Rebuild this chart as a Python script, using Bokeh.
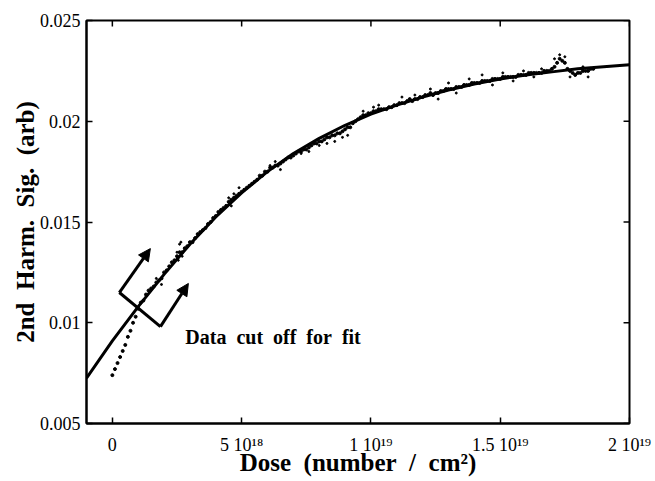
from bokeh.plotting import figure
from bokeh.models import Range1d, FixedTicker, Arrow, NormalHead, Label
from bokeh.embed import file_html
from bokeh.resources import INLINE

# ---- data (dose in units of 1e18 / cm^2) ----
fit_dose = [-1.0, 0.0, 1.0, 2.0, 3.0, 4.0, 5.0, 6.0, 7.0, 8.0, 9.0, 10.0,
            11.0, 12.0, 13.0, 14.0, 15.0, 16.0, 17.0, 18.0, 19.0, 20.0]
fit_sig = [0.00725, 0.0091, 0.0108, 0.0124, 0.0139, 0.01525, 0.01645, 0.0175,
           0.0184, 0.01915, 0.0198, 0.02035, 0.0208, 0.0212, 0.02155, 0.02185,
           0.0221, 0.0223, 0.02245, 0.0226, 0.0227, 0.0228]

data_dose = [0.0, 0.2, 0.4, 0.6, 0.8, 1.0, 1.2, 1.4, 1.6, 1.8,
             2.0, 2.2, 2.4, 2.6, 2.8, 3.0, 3.2, 3.4, 3.6, 3.8,
             4.0, 4.2, 4.4, 4.6, 4.8, 5.0, 5.2, 5.4, 5.6, 5.8,
             6.0, 6.2, 6.4, 6.6, 6.8, 7.0, 7.2, 7.4, 7.6, 7.8,
             8.0, 8.2, 8.4, 8.6, 8.8, 9.0, 9.2, 9.4, 9.6, 9.8,
             10.0, 10.2, 10.4, 10.6, 10.8, 11.0, 11.2, 11.4, 11.6, 11.8,
             12.0, 12.2, 12.4, 12.6, 12.8, 13.0, 13.2, 13.4, 13.6, 13.8,
             14.0, 14.2, 14.4, 14.6, 14.8, 15.0, 15.2, 15.4, 15.6, 15.8,
             16.0, 16.2, 16.4, 16.6, 16.8, 17.0, 17.2, 17.4, 17.6, 17.8,
             18.0, 18.2, 18.4, 18.6]
data_sig = [0.0074, 0.0080, 0.0086, 0.0093, 0.0100, 0.0107, 0.0111, 0.0116, 0.0118, 0.0121,
            0.0125, 0.0128, 0.0131, 0.0135, 0.0137, 0.0140, 0.0142, 0.0145, 0.0147, 0.0150,
            0.0153, 0.0156, 0.0158, 0.0161, 0.0163, 0.0165, 0.0167, 0.0169, 0.0171, 0.0173,
            0.0175, 0.0177, 0.0178, 0.0180, 0.0182, 0.0183, 0.0185, 0.0186, 0.0187, 0.0189,
            0.0190, 0.0191, 0.0192, 0.0193, 0.0194, 0.0196, 0.0197, 0.0200, 0.0202, 0.0203,
            0.0204, 0.0205, 0.0206, 0.0206, 0.0207, 0.0208, 0.0209, 0.0210, 0.0210, 0.0211,
            0.0212, 0.0213, 0.0213, 0.0214, 0.0215, 0.0216, 0.0216, 0.0217, 0.0218, 0.0218,
            0.0219, 0.0219, 0.0220, 0.0220, 0.0221, 0.0221, 0.0222, 0.0222, 0.0222, 0.0223,
            0.0223, 0.0224, 0.0224, 0.0224, 0.0225, 0.0226, 0.0229, 0.0230, 0.0226, 0.0224,
            0.0224, 0.0225, 0.0225, 0.0226]

data2_dose = [0.1, 0.3, 0.5, 0.7, 0.9, 1.1, 1.3, 1.5, 1.7, 1.9,
              2.1, 2.3, 2.5, 2.7, 2.9, 3.1, 3.3, 3.5, 3.7, 3.9,
              4.1, 4.3, 4.5, 4.7, 4.9, 5.1, 5.3, 5.5, 5.7, 5.9,
              6.1, 6.3, 6.5, 6.7, 6.9, 7.1, 7.3, 7.5, 7.7, 7.9,
              8.1, 8.3, 8.5, 8.7, 8.9, 9.1, 9.3, 9.5, 9.7, 9.9,
              10.1, 10.3, 10.5, 10.7, 10.9, 11.1, 11.3, 11.5, 11.7, 11.9,
              12.1, 12.3, 12.5, 12.7, 12.9, 13.1, 13.3, 13.5, 13.7, 13.9,
              14.1, 14.3, 14.5, 14.7, 14.9, 15.1, 15.3, 15.5, 15.7, 15.9,
              16.1, 16.3, 16.5, 16.7, 16.9, 17.1, 17.3, 17.5, 17.7, 17.9,
              18.1, 18.3, 18.5]
data2_sig = [0.0077, 0.0083, 0.0089, 0.0096, 0.0103, 0.0110, 0.0114, 0.0117, 0.0120, 0.0122,
             0.0126, 0.0130, 0.0133, 0.0135, 0.0138, 0.0140, 0.0144, 0.0146, 0.0149, 0.0152,
             0.0155, 0.0157, 0.0160, 0.0162, 0.0164, 0.0166, 0.0168, 0.0170, 0.0173, 0.0175,
             0.0177, 0.0178, 0.0179, 0.0181, 0.0182, 0.0184, 0.0185, 0.0186, 0.0188, 0.0189,
             0.0190, 0.0192, 0.0193, 0.0194, 0.0195, 0.0197, 0.0199, 0.0201, 0.0203, 0.0204,
             0.0205, 0.0206, 0.0206, 0.0207, 0.0208, 0.0209, 0.0209, 0.0211, 0.0211, 0.0212,
             0.0213, 0.0214, 0.0214, 0.0215, 0.0216, 0.0216, 0.0217, 0.0217, 0.0218, 0.0219,
             0.0219, 0.0220, 0.0220, 0.0221, 0.0221, 0.0222, 0.0222, 0.0222, 0.0223, 0.0223,
             0.0224, 0.0224, 0.0224, 0.0225, 0.0225, 0.0227, 0.0231, 0.0229, 0.0225, 0.0223,
             0.0224, 0.0225, 0.0226]

scatter_dose = [1.7, 1.9, 2.5, 2.55, 2.6, 2.65, 2.7, 4.5, 4.6, 4.7, 4.9,
                6.1, 6.3, 6.5, 7.3, 7.6, 8.0, 8.3, 8.6, 8.9, 9.1,
                9.7, 10.1, 10.3, 11.2, 11.7, 12.3, 12.6, 13.0, 13.3, 13.8,
                14.3, 14.7, 15.1, 15.5, 15.9, 16.3, 16.6,
                17.1, 17.3, 17.5, 17.7, 17.9, 18.2, 18.4]
scatter_sig = [0.0122, 0.0119, 0.0135, 0.0131, 0.0139, 0.0140, 0.0133, 0.0162, 0.0158, 0.0164, 0.0167,
               0.0178, 0.0180, 0.0176, 0.0184, 0.0185, 0.0188, 0.0189, 0.0190, 0.0192, 0.0193,
               0.0205, 0.0207, 0.0208, 0.0212, 0.0213, 0.0216, 0.0211, 0.0219, 0.0214, 0.0221,
               0.0223, 0.0218, 0.0224, 0.0220, 0.0225, 0.0222, 0.0226,
               0.0231, 0.0233, 0.0232, 0.0222, 0.0223, 0.0227, 0.0222]

x_ticks = [0, 5, 10, 15, 20]
x_tick_labels = ["0", "5 10\u00b9\u2078", "1 10\u00b9\u2079", "1.5 10\u00b9\u2079", "2 10\u00b9\u2079"]
y_ticks = [0.005, 0.01, 0.015, 0.02, 0.025]
y_tick_labels = ["0.005", "0.01", "0.015", "0.02", "0.025"]

X_MIN, X_MAX = -1.0, 20.0
Y_MIN, Y_MAX = 0.005, 0.025

SERIF = "Liberation Serif"
SP = "\u2002"

p = figure(width=655, height=481, output_backend="svg", toolbar_location=None,
           x_range=Range1d(X_MIN, X_MAX), y_range=Range1d(Y_MIN, Y_MAX),
           min_border_left=86, min_border_right=26, min_border_top=20, min_border_bottom=58)
p.grid.visible = False
p.outline_line_color = "black"
p.outline_line_width = 2
p.background_fill_color = "white"
p.border_fill_color = "white"

for ax in (p.xaxis[0], p.yaxis[0]):
    ax.axis_line_width = 2
    ax.axis_line_color = "black"
    ax.major_tick_in = 6
    ax.major_tick_out = 0
    ax.major_tick_line_width = 1.5
    ax.minor_tick_line_color = None
    ax.major_label_text_font = SERIF
    ax.major_label_text_color = "black"
    ax.major_label_text_font_size = "18px"
    ax.axis_label_text_font = SERIF
    ax.axis_label_text_font_style = "bold"
    ax.axis_label_text_color = "black"
    ax.axis_label_text_font_size = "25px"

xa = p.xaxis[0]
xa.ticker = FixedTicker(ticks=x_ticks)
xa.major_label_overrides = {t: l for t, l in zip(x_ticks, x_tick_labels)}
xa.major_label_standoff = 11
xa.axis_label = SP.join(["Dose", "(number", "/", "cm\u00b2)"])
xa.axis_label_standoff = -9

ya = p.yaxis[0]
ya.ticker = FixedTicker(ticks=y_ticks)
ya.major_label_overrides = {t: l for t, l in zip(y_ticks, y_tick_labels)}
ya.major_label_standoff = 6
ya.axis_label = SP.join(["2nd", "Harm.", "Sig.", "(arb)"])
ya.axis_label_standoff = -2

# inward ticks on the top and right frame edges
tick_dx = 0.23
tick_dy = 0.0003
p.segment(x0=x_ticks, y0=[Y_MAX] * len(x_ticks), x1=x_ticks,
          y1=[Y_MAX - tick_dy] * len(x_ticks), line_color="black", line_width=1.5)
p.segment(x0=[X_MAX] * len(y_ticks), y0=y_ticks, x1=[X_MAX - tick_dx] * len(y_ticks),
          y1=y_ticks, line_color="black", line_width=1.5)

# fit curve and data
p.line(fit_dose, fit_sig, line_color="black", line_width=3)
p.scatter(data_dose, data_sig, marker="circle", size=3, color="black")
p.scatter(data2_dose, data2_sig, marker="circle", size=3, color="black")
p.scatter(scatter_dose, scatter_sig, marker="circle", size=2, color="black")

# bracket + arrows annotation
ax_, ay_ = 0.27, 0.0115
bx_, by_ = 1.86, 0.00981
p.line([ax_, bx_], [ay_, by_], line_color="black", line_width=3)
p.add_layout(Arrow(end=NormalHead(size=12, fill_color="black", line_color="black"),
                   x_start=ax_, y_start=ay_, x_end=1.47, y_end=0.01368,
                   line_width=3, line_color="black"))
p.add_layout(Arrow(end=NormalHead(size=12, fill_color="black", line_color="black"),
                   x_start=bx_, y_start=by_, x_end=2.94, y_end=0.01195,
                   line_width=3, line_color="black"))
p.add_layout(Label(x=2.82, y=0.00927, text=SP.join(["Data", "cut", "off", "for", "fit"]),
                   text_font=SERIF, text_font_style="bold", text_font_size="20px",
                   text_baseline="middle", text_color="black"))

open("out.html", "w").write(file_html(p, INLINE))
